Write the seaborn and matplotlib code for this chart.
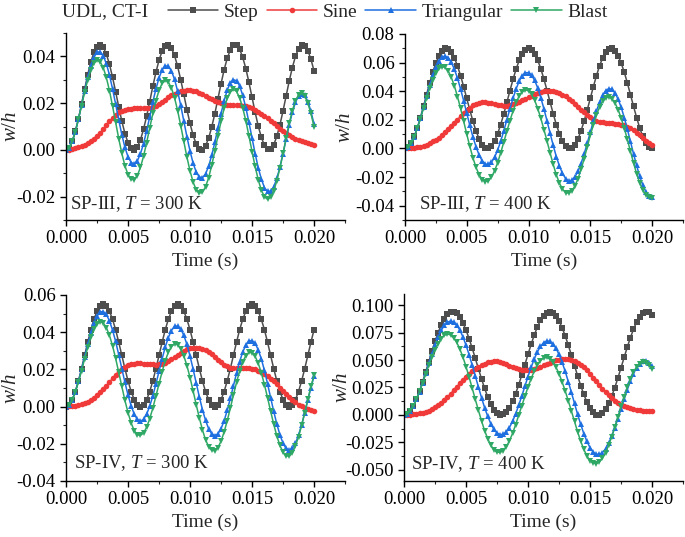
import numpy as np
import pandas as pd
import matplotlib
matplotlib.use("Agg")
import matplotlib.pyplot as plt
import seaborn as sns
from matplotlib.ticker import MultipleLocator, FormatStrFormatter

sns.set_style("ticks")
plt.rcParams["font.family"] = ["Liberation Serif", "DejaVu Serif"]
plt.rcParams["mathtext.fontset"] = "custom"
plt.rcParams["mathtext.rm"] = "Liberation Serif"
plt.rcParams["mathtext.it"] = "Liberation Serif:italic"
plt.rcParams["axes.unicode_minus"] = False

# sampling times (s)
time_s = np.round(np.arange(81) * 0.00025, 5)

series_names = ["Step", "Sine", "Triangular", "Blast"]

# ---------- SP-III, T = 300 K ----------
sp3_300_step = [0, .0009, .0036, .0079, .0133, .0196, .0260, .0322, .0376, .0417,
                .0442, .0450, .0439, .0410, .0367, .0311, .0249, .0184, .0123, .0070,
                .0030, .0006, .0000, .0013, .0043, .0088, .0144, .0207, .0272, .0332,
                .0384, .0423, .0445, .0449, .0435, .0404, .0357, .0300, .0237, .0172,
                .0113, .0062, .0025, .0004, .0001, .0017, .0050, .0098, .0155, .0219,
                .0283, .0343, .0392, .0428, .0447, .0448, .0431, .0396, .0348, .0289,
                .0225, .0161, .0102, .0054, .0019, .0002, .0003, .0022, .0058, .0107,
                .0167, .0231, .0295, .0352, .0400, .0433, .0449, .0446, .0425, .0388,
                .0338]
sp3_300_sine = [0, .0001, .0004, .0008, .0012, .0017, .0023, .0029, .0038, .0048,
                .0060, .0073, .0088, .0105, .0122, .0137, .0150, .0160, .0167, .0172,
                .0175, .0177, .0178, .0179, .0180, .0180, .0180, .0181, .0184, .0189,
                .0196, .0205, .0215, .0225, .0233, .0240, .0246, .0251, .0254, .0255,
                .0255, .0253, .0250, .0245, .0238, .0231, .0224, .0217, .0210, .0204,
                .0199, .0195, .0193, .0192, .0192, .0192, .0191, .0189, .0187, .0183,
                .0178, .0172, .0164, .0155, .0146, .0135, .0124, .0113, .0102, .0091,
                .0080, .0071, .0062, .0054, .0047, .0041, .0036, .0032, .0028, .0025,
                .0022]
sp3_300_tri = [0, .0009, .0036, .0078, .0131, .0192, .0253, .0311, .0361, .0397,
               .0417, .0420, .0403, .0369, .0321, .0261, .0196, .0128, .0065, .0011,
               -.0030, -.0054, -.0060, -.0047, -.0017, .0027, .0081, .0142, .0205, .0261,
               .0308, .0343, .0359, .0358, .0338, .0302, .0251, .0190, .0123, .0056,
               -.0005, -.0057, -.0095, -.0116, -.0119, -.0103, -.0070, -.0023, .0032, .0094,
               .0155, .0211, .0256, .0287, .0300, .0296, .0274, .0233, .0181, .0118,
               .0051, -.0016, -.0076, -.0125, -.0161, -.0178, -.0177, -.0158, -.0122, -.0074,
               -.0016, .0046, .0107, .0160, .0203, .0231, .0241, .0233, .0207, .0165,
               .0110]
sp3_300_blast = [0, .0009, .0037, .0078, .0131, .0189, .0247, .0300, .0343, .0372,
                 .0384, .0377, .0352, .0310, .0254, .0188, .0118, .0048, -.0015, -.0068,
                 -.0106, -.0126, -.0127, -.0110, -.0075, -.0027, .0031, .0094, .0156, .0211,
                 .0255, .0285, .0297, .0290, .0265, .0223, .0168, .0104, .0036, -.0031,
                 -.0090, -.0138, -.0171, -.0185, -.0181, -.0158, -.0119, -.0066, -.0005, .0060,
                 .0122, .0178, .0221, .0249, .0259, .0250, .0223, .0180, .0124, .0060,
                 -.0007, -.0071, -.0128, -.0172, -.0201, -.0211, -.0202, -.0175, -.0132, -.0077,
                 -.0014, .0051, .0114, .0168, .0210, .0235, .0243, .0231, .0201, .0156,
                 .0099]

# ---------- SP-III, T = 400 K ----------
sp3_400_step = [0, .0010, .0038, .0084, .0144, .0216, .0295, .0377, .0458, .0533,
                .0597, .0648, .0683, .0699, .0696, .0673, .0633, .0577, .0509, .0432,
                .0350, .0268, .0191, .0123, .0067, .0027, .0004, .0001, .0017, .0052,
                .0103, .0167, .0242, .0323, .0405, .0484, .0556, .0616, .0662, .0690,
                .0700, .0690, .0662, .0616, .0556, .0484, .0405, .0323, .0242, .0167,
                .0103, .0052, .0017, .0001, .0004, .0027, .0067, .0123, .0191, .0268,
                .0350, .0432, .0509, .0577, .0633, .0673, .0696, .0699, .0683, .0648,
                .0597, .0533, .0458, .0377, .0295, .0216, .0144, .0084, .0038, .0010,
                0]
sp3_400_sine = [0, .0000, .0002, .0004, .0008, .0013, .0020, .0027, .0037, .0049,
                .0060, .0076, .0095, .0113, .0133, .0155, .0178, .0202, .0225, .0248,
                .0268, .0286, .0301, .0312, .0319, .0322, .0322, .0320, .0316, .0311,
                .0306, .0302, .0299, .0299, .0302, .0308, .0316, .0326, .0337, .0348,
                .0358, .0368, .0378, .0387, .0394, .0399, .0401, .0401, .0399, .0394,
                .0387, .0377, .0364, .0349, .0333, .0313, .0292, .0272, .0253, .0235,
                .0218, .0205, .0195, .0188, .0183, .0180, .0178, .0176, .0174, .0171,
                .0167, .0161, .0152, .0141, .0127, .0111, .0093, .0074, .0055, .0037,
                .0021]
sp3_400_tri = [0, .0010, .0038, .0083, .0142, .0211, .0287, .0365, .0441, .0510,
               .0567, .0611, .0638, .0645, .0634, .0602, .0554, .0491, .0416, .0334,
               .0247, .0161, .0081, .0012, -.0046, -.0086, -.0109, -.0112, -.0096, -.0062,
               -.0012, .0051, .0123, .0201, .0278, .0352, .0418, .0471, .0509, .0529,
               .0530, .0512, .0475, .0422, .0354, .0276, .0192, .0105, .0021, -.0057,
               -.0122, -.0174, -.0210, -.0226, -.0223, -.0200, -.0160, -.0106, -.0039, .0035,
               .0113, .0190, .0262, .0323, .0372, .0404, .0418, .0413, .0388, .0345,
               .0287, .0216, .0135, .0049, -.0037, -.0119, -.0194, -.0255, -.0302, -.0330,
               -.0340]
sp3_400_blast = [0, .0010, .0038, .0083, .0141, .0209, .0281, .0353, .0422, .0481,
                 .0528, .0559, .0572, .0566, .0541, .0497, .0437, .0363, .0280, .0191,
                 .0100, .0014, -.0065, -.0132, -.0183, -.0217, -.0231, -.0225, -.0200, -.0157,
                 -.0100, -.0030, .0045, .0121, .0195, .0263, .0322, .0368, .0398, .0409,
                 .0403, .0378, .0336, .0278, .0210, .0132, .0051, -.0032, -.0112, -.0184,
                 -.0242, -.0284, -.0308, -.0312, -.0297, -.0263, -.0212, -.0147, -.0072, .0009,
                 .0092, .0165, .0233, .0290, .0332, .0355, .0360, .0348, .0318, .0272,
                 .0212, .0142, .0063, -.0020, -.0101, -.0176, -.0240, -.0291, -.0325, -.0342,
                 -.0345]

# ---------- SP-IV, T = 300 K ----------
sp4_300_step = [0, .0009, .0037, .0081, .0138, .0204, .0275, .0346, .0413, .0469,
                .0513, .0541, .0550, .0541, .0513, .0469, .0413, .0346, .0275, .0204,
                .0138, .0081, .0037, .0009, 0, .0009, .0037, .0081, .0138, .0204,
                .0275, .0346, .0413, .0469, .0513, .0541, .0550, .0541, .0513, .0469,
                .0413, .0346, .0275, .0204, .0138, .0081, .0037, .0009, 0, .0009,
                .0037, .0081, .0138, .0204, .0275, .0346, .0413, .0469, .0513, .0541,
                .0550, .0541, .0513, .0469, .0413, .0346, .0275, .0204, .0138, .0081,
                .0037, .0009, 0, .0009, .0037, .0081, .0138, .0204, .0275, .0346,
                .0413]
sp4_300_sine = [0, .0001, .0003, .0005, .0009, .0014, .0020, .0027, .0037, .0048,
                .0062, .0077, .0093, .0112, .0132, .0152, .0171, .0189, .0203, .0215,
                .0223, .0228, .0231, .0232, .0232, .0231, .0230, .0228, .0227, .0226,
                .0227, .0230, .0236, .0244, .0254, .0265, .0277, .0289, .0299, .0307,
                .0313, .0316, .0317, .0315, .0310, .0302, .0292, .0280, .0266, .0252,
                .0238, .0226, .0216, .0210, .0207, .0206, .0206, .0206, .0206, .0206,
                .0204, .0200, .0193, .0185, .0175, .0163, .0150, .0135, .0119, .0102,
                .0085, .0068, .0051, .0036, .0022, .0011, .0002, -.0005, -.0011, -.0017,
                -.0022]
sp4_300_tri = [0, .0009, .0037, .0080, .0136, .0200, .0268, .0335, .0398, .0449,
               .0487, .0509, .0511, .0496, .0461, .0412, .0350, .0279, .0204, .0130,
               .0062, .0004, -.0041, -.0069, -.0078, -.0069, -.0041, .0002, .0058, .0122,
               .0190, .0257, .0320, .0371, .0409, .0431, .0433, .0418, .0383, .0334,
               .0272, .0201, .0126, .0052, -.0016, -.0074, -.0119, -.0147, -.0156, -.0147,
               -.0119, -.0076, -.0020, .0044, .0112, .0179, .0242, .0293, .0331, .0353,
               .0355, .0340, .0305, .0256, .0194, .0123, .0048, -.0026, -.0094, -.0152,
               -.0197, -.0225, -.0234, -.0225, -.0197, -.0154, -.0098, -.0034, .0034, .0101,
               .0164]
sp4_300_blast = [0, .0009, .0036, .0078, .0132, .0193, .0257, .0318, .0373, .0416,
                 .0445, .0457, .0450, .0425, .0383, .0327, .0259, .0184, .0108, .0033,
                 -.0033, -.0088, -.0129, -.0151, -.0155, -.0142, -.0111, -.0065, -.0008, .0057,
                 .0123, .0188, .0246, .0292, .0323, .0337, .0333, .0312, .0273, .0220,
                 .0156, .0084, .0010, -.0061, -.0125, -.0178, -.0215, -.0235, -.0237, -.0220,
                 -.0186, -.0136, -.0076, -.0008, .0062, .0130, .0191, .0240, .0274, .0291,
                 .0290, .0270, .0233, .0181, .0118, .0048, -.0025, -.0095, -.0158, -.0209,
                 -.0246, -.0265, -.0266, -.0247, -.0212, -.0162, -.0101, -.0032, .0039, .0108,
                 .0169]

# ---------- SP-IV, T = 400 K ----------
sp4_400_step = [0, .0009, .0037, .0083, .0143, .0217, .0302, .0392, .0486, .0580,
                .0669, .0750, .0819, .0875, .0914, .0936, .0939, .0923, .0889, .0838,
                .0772, .0694, .0607, .0515, .0421, .0329, .0242, .0165, .0100, .0049,
                .0016, .0001, .0005, .0027, .0067, .0123, .0194, .0275, .0364, .0458,
                .0552, .0642, .0726, .0799, .0860, .0904, .0931, .0940, .0930, .0901,
                .0855, .0794, .0719, .0635, .0544, .0450, .0356, .0268, .0187, .0118,
                .0063, .0024, .0004, .0001, .0018, .0053, .0105, .0171, .0249, .0337,
                .0429, .0523, .0615, .0701, .0778, .0843, .0892, .0925, .0939, .0935,
                .0912]
sp4_400_sine = [0, .0001, .0002, .0005, .0009, .0014, .0021, .0029, .0040, .0053,
                .0069, .0088, .0110, .0135, .0163, .0193, .0224, .0256, .0288, .0319,
                .0348, .0375, .0399, .0420, .0439, .0455, .0468, .0478, .0485, .0488,
                .0487, .0482, .0473, .0462, .0450, .0438, .0427, .0418, .0412, .0409,
                .0409, .0413, .0420, .0429, .0440, .0452, .0464, .0476, .0487, .0496,
                .0503, .0508, .0510, .0508, .0502, .0492, .0477, .0457, .0433, .0405,
                .0373, .0340, .0305, .0271, .0238, .0207, .0178, .0152, .0129, .0110,
                .0094, .0081, .0070, .0061, .0054, .0048, .0044, .0040, .0037, .0035,
                .0033]
sp4_400_tri = [0, .0009, .0037, .0082, .0141, .0212, .0294, .0380, .0469, .0556,
               .0638, .0710, .0769, .0815, .0843, .0854, .0845, .0818, .0773, .0711,
               .0635, .0548, .0453, .0354, .0255, .0158, .0067, -.0012, -.0079, -.0131,
               -.0164, -.0179, -.0175, -.0153, -.0114, -.0059, .0010, .0088, .0173, .0262,
               .0350, .0433, .0509, .0572, .0623, .0656, .0672, .0670, .0648, .0608,
               .0551, .0480, .0396, .0303, .0205, .0105, .0006, -.0086, -.0169, -.0240,
               -.0296, -.0336, -.0356, -.0359, -.0342, -.0308, -.0257, -.0192, -.0117, -.0032,
               .0055, .0143, .0228, .0306, .0374, .0429, .0468, .0489, .0492, .0477,
               .0442]
sp4_400_blast = [0, .0010, .0038, .0084, .0143, .0214, .0292, .0375, .0452, .0528,
                 .0595, .0650, .0695, .0724, .0736, .0729, .0704, .0660, .0601, .0527,
                 .0440, .0344, .0244, .0141, .0043, -.0054, -.0141, -.0216, -.0274, -.0316,
                 -.0338, -.0340, -.0323, -.0288, -.0235, -.0168, -.0089, -.0002, .0084, .0170,
                 .0254, .0331, .0399, .0454, .0494, .0517, .0524, .0512, .0482, .0436,
                 .0375, .0301, .0219, .0128, .0036, -.0059, -.0153, -.0239, -.0312, -.0372,
                 -.0414, -.0438, -.0442, -.0427, -.0394, -.0342, -.0276, -.0197, -.0108, -.0014,
                 .0078, .0167, .0251, .0325, .0389, .0436, .0468, .0482, .0477, .0454,
                 .0414]

panel_labels = ["SP-III, $\\mathit{T}$ = 300 K", "SP-III, $\\mathit{T}$ = 400 K",
                "SP-IV, $\\mathit{T}$ = 300 K", "SP-IV, $\\mathit{T}$ = 400 K"]
panel_series = [
    [sp3_300_step, sp3_300_sine, sp3_300_tri, sp3_300_blast],
    [sp3_400_step, sp3_400_sine, sp3_400_tri, sp3_400_blast],
    [sp4_300_step, sp4_300_sine, sp4_300_tri, sp4_300_blast],
    [sp4_400_step, sp4_400_sine, sp4_400_tri, sp4_400_blast],
]
y_limits = [(-0.03, 0.05), (-0.05, 0.08), (-0.04, 0.06), (-0.06, 0.11)]
y_major = [0.02, 0.02, 0.02, 0.025]
y_fmt = ["%.2f", "%.2f", "%.2f", "%.3f"]

colors = {"Step": "#4D4D4D", "Sine": "#F03A3A", "Triangular": "#1E6FE0", "Blast": "#2FA866"}
markers = {"Step": "s", "Sine": "o", "Triangular": "^", "Blast": "v"}

fig = plt.figure(figsize=(6.85, 5.37), dpi=100)
rects = [
    [0.0964, 0.5903, 0.4073, 0.3482],
    [0.5912, 0.5903, 0.4058, 0.3464],
    [0.0964, 0.1043, 0.4073, 0.3464],
    [0.5898, 0.1043, 0.4073, 0.3482],
]
text_pos = [(0.015, 0.086), (0.05, 0.086), (0.029, 0.097), (0.025, 0.091)]
ylabel_x = [-0.16, -0.18, -0.16, -0.186]

handles, labels = None, None
for i in range(4):
    ax = fig.add_axes(rects[i])
    frames = []
    for name, vals in zip(series_names, panel_series[i]):
        frames.append(pd.DataFrame({"Time": time_s, "w": vals, "Load": name}))
    df = pd.concat(frames, ignore_index=True)
    sns.lineplot(data=df, x="Time", y="w", hue="Load", style="Load",
                 hue_order=series_names, style_order=series_names,
                 palette=colors, markers=markers, dashes=False,
                 estimator=None, sort=False, errorbar=None,
                 linewidth=1.1, markersize=4.0, markeredgewidth=0,
                 ax=ax, legend=(i == 0))
    if i == 0:
        handles, labels = ax.get_legend_handles_labels()
        ax.get_legend().remove()
    ax.set_xlim(0, 0.0225)
    ax.set_ylim(*y_limits[i])
    ax.xaxis.set_major_locator(MultipleLocator(0.005))
    ax.xaxis.set_minor_locator(MultipleLocator(0.0025))
    ax.xaxis.set_major_formatter(FormatStrFormatter("%.3f"))
    ax.yaxis.set_major_locator(MultipleLocator(y_major[i]))
    ax.yaxis.set_minor_locator(MultipleLocator(y_major[i] / 2))
    ax.yaxis.set_major_formatter(FormatStrFormatter(y_fmt[i]))
    ax.tick_params(which="major", direction="out", length=4, width=1, labelsize=13.5, pad=3.5, colors="black")
    ax.tick_params(which="minor", direction="out", length=2.5, width=0.8)
    for s in ["top", "right"]:
        ax.spines[s].set_visible(False)
    for s in ["left", "bottom"]:
        ax.spines[s].set_linewidth(1.0)
        ax.spines[s].set_color("black")
    ax.set_xlabel("Time (s)", fontsize=14, labelpad=4)
    ax.set_ylabel("$w$/$h$", fontsize=15)
    ax.yaxis.set_label_coords(ylabel_x[i], 0.5)
    ax.text(text_pos[i][0], text_pos[i][1], panel_labels[i], transform=ax.transAxes,
            fontsize=13.5, ha="left", va="center")

fig.text(0.0905, 0.9777, "UDL, CT-I", fontsize=14, ha="left", va="center")
fig.legend(handles, labels, loc="center", bbox_to_anchor=(0.566, 0.978), ncol=4,
           frameon=False, fontsize=14, handlelength=2.6, columnspacing=0.4,
           handletextpad=0.3, borderaxespad=0, markerscale=1.0)

fig.savefig("out.png", dpi=100)
